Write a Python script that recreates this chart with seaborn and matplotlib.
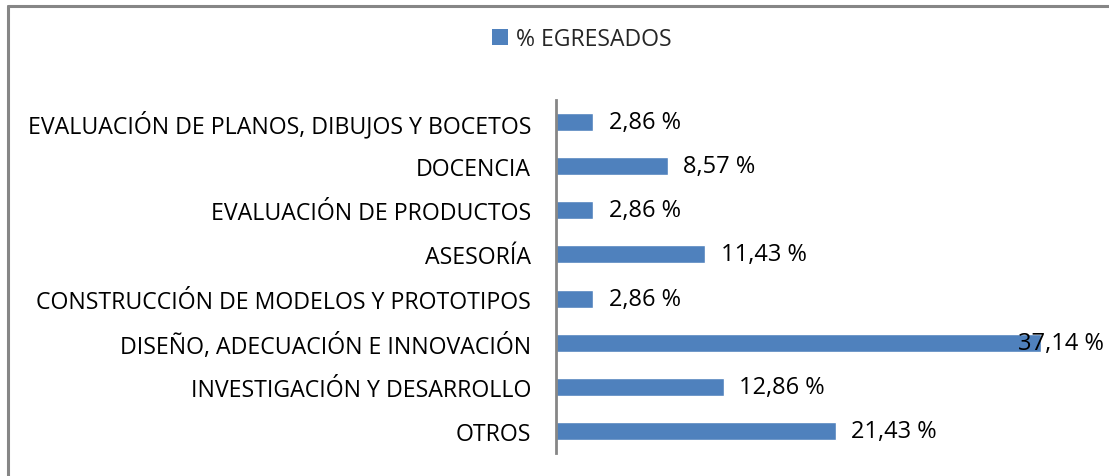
import matplotlib
matplotlib.use("Agg")
import matplotlib.pyplot as plt
import seaborn as sns
import pandas as pd
from matplotlib.lines import Line2D
from matplotlib.patches import Patch

categories = [
    "EVALUACIÓN DE PLANOS, DIBUJOS Y BOCETOS",
    "DOCENCIA",
    "EVALUACIÓN DE PRODUCTOS",
    "ASESORÍA",
    "CONSTRUCCIÓN DE MODELOS Y PROTOTIPOS",
    "DISEÑO, ADECUACIÓN E INNOVACIÓN",
    "INVESTIGACIÓN Y DESARROLLO",
    "OTROS",
]
values = [2.86, 8.57, 2.86, 11.43, 2.86, 37.14, 12.86, 21.43]
series_name = "% EGRESADOS"

sns.set_theme(style="white")
plt.rcParams["font.family"] = ["Open Sans", "DejaVu Sans"]

df = pd.DataFrame({"cat": categories, "val": values})

fig = plt.figure(figsize=(11.09, 4.77), dpi=100)
W, H = 1109, 477
ax = fig.add_axes([556 / W, 1 - 454 / H, (1100 - 556) / W, (454 - 101) / H])

BAR = "#4F81BD"
sns.barplot(data=df, y="cat", x="val", orient="h", color=BAR, width=0.41,
            saturation=1, ax=ax)
xmax = 544 / 13.07
ax.set_xlim(0, xmax)
ax.set_ylim(len(categories) - 0.5, -0.5)
ax.set_xlabel("")
ax.set_ylabel("")
ax.set_xticks([])
for s in ["top", "right", "bottom"]:
    ax.spines[s].set_visible(False)
ax.spines["left"].set_color("#868686")
ax.spines["left"].set_linewidth(2)
ax.tick_params(axis="y", length=0, pad=18, labelsize=16.7, colors="black")

for i, v in enumerate(values):
    txt = f"{v:.2f}".replace(".", ",") + " %"
    if v + 7.5 > xmax:
        ax.annotate(txt, xy=(1104 / W, i), xycoords=(fig.transFigure, "data"),
                    ha="right", va="center", fontsize=17, color="black")
    else:
        ax.annotate(txt, xy=(v, i), xytext=(11, 0), textcoords="offset points",
                    ha="left", va="center", fontsize=17, color="black")

handles = [Patch(facecolor=BAR, edgecolor="none", label=series_name)]
fig.legend(handles=handles, loc="center", bbox_to_anchor=(582 / W, 1 - 40 / H),
           frameon=False, fontsize=16.6, handlelength=0.7, handleheight=0.7,
           handletextpad=0.35)

fig.add_artist(Line2D([8 / W, 8 / W], [0, 1 - 7 / H], transform=fig.transFigure,
                      color="#868686", linewidth=2.2))
fig.add_artist(Line2D([8 / W, 1], [1 - 7 / H, 1 - 7 / H], transform=fig.transFigure,
                      color="#868686", linewidth=2.2))

fig.savefig("out.png", dpi=100, facecolor="white")
